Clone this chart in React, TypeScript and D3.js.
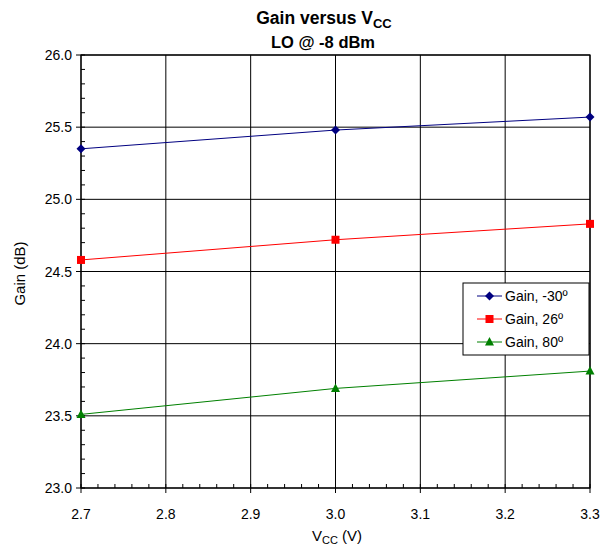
import React from "react";
import * as d3 from "d3";

const vcc = [2.7, 3.0, 3.3];
const gainCold = [25.35, 25.48, 25.57];
const gainRoom = [24.58, 24.72, 24.83];
const gainHot = [23.51, 23.69, 23.81];
const seriesNames = ["Gain, -30º", "Gain, 26º", "Gain, 80º"];
const xTicks = [2.7, 2.8, 2.9, 3.0, 3.1, 3.2, 3.3];
const yTicks = [23.0, 23.5, 24.0, 24.5, 25.0, 25.5, 26.0];

const W = 601, H = 548;
const L = 81, R = 590, T = 55, B = 488;
const FONT = "'Liberation Sans', Arial, sans-serif";

export default function App() {
  const x = d3.scaleLinear().domain([2.7, 3.3]).range([L, R]);
  const y = d3.scaleLinear().domain([23, 26]).range([B, T]);
  const line = d3.line<number>().x((_, i) => x(vcc[i])).y((d) => y(d));
  const series = [
    { name: seriesNames[0], data: gainCold, color: "#000080", marker: "diamond" },
    { name: seriesNames[1], data: gainRoom, color: "#FF0000", marker: "square" },
    { name: seriesNames[2], data: gainHot, color: "#008000", marker: "triangle" },
  ];
  const xMinor = d3.range(2.7, 3.3001, 0.02);
  const yMinor = d3.range(23, 26.001, 0.1);

  const marker = (m: string, cx: number, cy: number, color: string, key?: any) => {
    if (m === "diamond") {
      const s = 4.5;
      return <path key={key} d={`M${cx},${cy - s}L${cx + s},${cy}L${cx},${cy + s}L${cx - s},${cy}Z`} fill={color} />;
    }
    if (m === "square") {
      return <rect key={key} x={cx - 4} y={cy - 4} width={8} height={8} fill={color} />;
    }
    return <path key={key} d={`M${cx},${cy - 5}L${cx + 4.5},${cy + 3.5}L${cx - 4.5},${cy + 3.5}Z`} fill={color} />;
  };

  const lgX = 463, lgY = 283, lgW = 126, lgH = 72;

  return (
    <svg width={W} height={H} style={{ position: "absolute", left: 0, top: 0, background: "#fff" }} fontFamily={FONT}>
      <rect x={0} y={0} width={W} height={H} fill="#fff" />
      {/* title */}
      <text x={324} y={24} textAnchor="middle" fontSize={17.5} fontWeight="bold">
        Gain versus V<tspan fontSize={13} dy={4}>CC</tspan>
      </text>
      <text x={323} y={48} textAnchor="middle" fontSize={16.5} fontWeight="bold">LO @ -8 dBm</text>

      {/* grid */}
      {xTicks.map((t) => (
        <line key={"gx" + t} x1={x(t)} x2={x(t)} y1={T} y2={B} stroke="#000" strokeWidth={1} />
      ))}
      {yTicks.map((t) => (
        <line key={"gy" + t} x1={L} x2={R} y1={y(t)} y2={y(t)} stroke="#000" strokeWidth={1} />
      ))}
      <rect x={L} y={T} width={R - L} height={B - T} fill="none" stroke="#000" strokeWidth={1.2} />

      {/* minor ticks */}
      {xMinor.map((t, i) => (
        <line key={"mx" + i} x1={x(t)} x2={x(t)} y1={B} y2={B - 4} stroke="#000" />
      ))}
      {yMinor.map((t, i) => (
        <line key={"my" + i} x1={L} x2={L + 4} y1={y(t)} y2={y(t)} stroke="#000" />
      ))}
      {xTicks.map((t) => (
        <line key={"xt" + t} x1={x(t)} x2={x(t)} y1={B} y2={B + 5} stroke="#000" />
      ))}
      {yTicks.map((t) => (
        <line key={"yt" + t} x1={L - 5} x2={L} y1={y(t)} y2={y(t)} stroke="#000" />
      ))}

      {/* tick labels */}
      {xTicks.map((t) => (
        <text key={"xl" + t} x={x(t)} y={B + 31} textAnchor="middle" fontSize={14}>{t.toFixed(1)}</text>
      ))}
      {yTicks.map((t) => (
        <text key={"yl" + t} x={L - 9} y={y(t) + 5} textAnchor="end" fontSize={14}>{t.toFixed(1)}</text>
      ))}

      {/* axis titles */}
      <text x={337} y={541} textAnchor="middle" fontSize={15}>
        V<tspan fontSize={11} dy={3}>CC</tspan><tspan dy={-3}> (V)</tspan>
      </text>
      <text transform={`translate(25,${(T + B) / 2 + 2}) rotate(-90)`} textAnchor="middle" fontSize={15}>Gain (dB)</text>

      {/* series */}
      {series.map((s) => (
        <g key={s.name}>
          <path d={line(s.data) || ""} fill="none" stroke={s.color} strokeWidth={1} />
          {s.data.map((v, i) => marker(s.marker, x(vcc[i]), y(v), s.color, i))}
        </g>
      ))}

      {/* legend */}
      <rect x={lgX} y={lgY} width={lgW} height={lgH} fill="#fff" stroke="#000" strokeWidth={1} />
      {series.map((s, i) => {
        const cy = lgY + 13 + i * 23;
        return (
          <g key={"lg" + i}>
            <line x1={lgX + 14} x2={lgX + 39} y1={cy} y2={cy} stroke={s.color} />
            {marker(s.marker, lgX + 26.5, cy, s.color)}
            <text x={lgX + 42} y={cy + 5} fontSize={14}>{s.name}</text>
          </g>
        );
      })}
    </svg>
  );
}
